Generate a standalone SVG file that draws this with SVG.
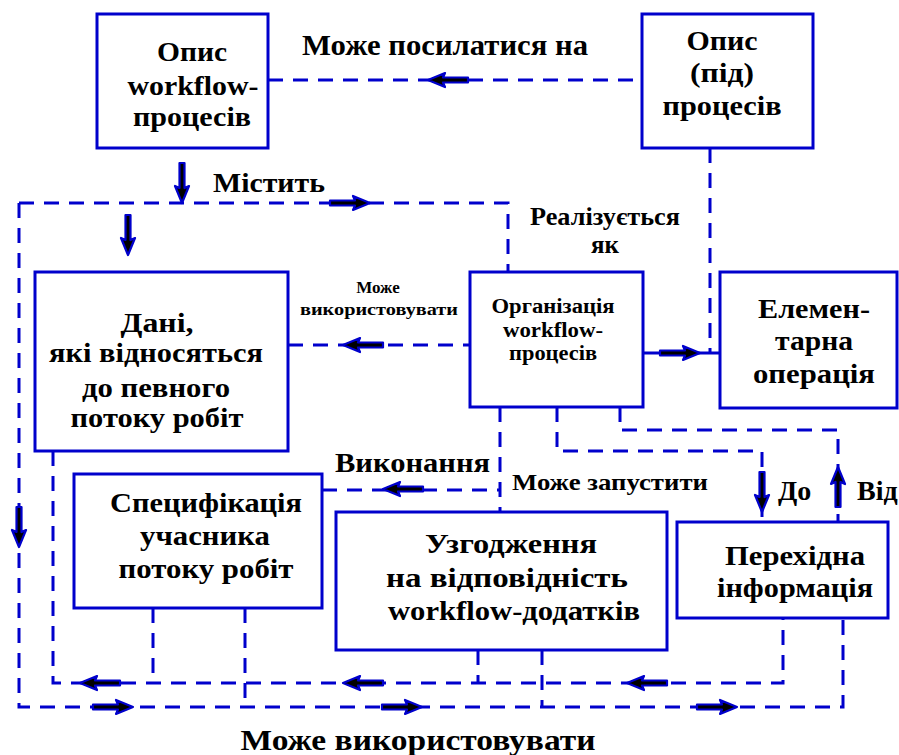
<svg xmlns="http://www.w3.org/2000/svg" width="899" height="755" viewBox="0 0 899 755">
<style>
.box{fill:#fff;stroke:#0000cc;stroke-width:3}
.d{fill:none;stroke:#0000cc;stroke-width:3;stroke-dasharray:15 10}
.s{fill:none;stroke:#0000cc;stroke-width:3}
.t28{font-size:28px;text-anchor:middle}
.t20{font-size:20px;text-anchor:middle}
.l{text-anchor:start}
</style>
<defs>
<polygon id="ah" points="0,0 -17,-7 -15,-2.5 -40,-2.5 -40,2.5 -15,2.5 -17,7" fill="#000" stroke="#0000cc" stroke-width="2.2" stroke-linejoin="round"/>
</defs>
<rect width="899" height="755" fill="#fff"/>
<g id="connectors">
<path class="d" d="M268,80 H642"/>
<path class="d" d="M710,148 V353"/>
<path class="s" d="M643,353 H720"/>
<path class="d" d="M19,203 H508 V272"/>
<path class="d" d="M19,203 V707 H843 V618"/>
<path class="d" d="M288,345 H470"/>
<path class="d" d="M53,451 V683 H783 V618"/>
<path class="d" d="M153,608 V683"/>
<path class="d" d="M245,608 V707"/>
<path class="d" d="M478,650 V683"/>
<path class="d" d="M542,650 V707"/>
<path class="d" d="M322,490 H500"/>
<path class="d" d="M500,407 V512"/>
<path class="d" d="M557,407 V451 H762 V522"/>
<path class="d" d="M620,407 V430 H838 V522"/>
<use href="#ah" transform="translate(428,80) rotate(180)"/>
<use href="#ah" transform="translate(182,203) rotate(90)"/>
<use href="#ah" transform="translate(128,255) rotate(90)"/>
<use href="#ah" transform="translate(370,203)"/>
<use href="#ah" transform="translate(343,345) rotate(180)"/>
<use href="#ah" transform="translate(700,353)"/>
<use href="#ah" transform="translate(383,489) rotate(180)"/>
<use href="#ah" transform="translate(762,512) rotate(90)"/>
<use href="#ah" transform="translate(838,467) rotate(-90)"/>
<use href="#ah" transform="translate(19,547) rotate(90)"/>
<use href="#ah" transform="translate(80,683) rotate(180)"/>
<use href="#ah" transform="translate(343,683) rotate(180)"/>
<use href="#ah" transform="translate(627,683) rotate(180)"/>
<use href="#ah" transform="translate(133,707)"/>
<use href="#ah" transform="translate(422,707)"/>
<use href="#ah" transform="translate(737,707)"/>
</g>
<g font-family="Liberation Serif" font-weight="bold" fill="#000">
<g id="labels">
<text class="l" x="302" y="55" font-size="30" textLength="286" lengthAdjust="spacingAndGlyphs">Може посилатися на</text>
<text class="l" x="213" y="192" font-size="27" textLength="112" lengthAdjust="spacingAndGlyphs">Містить</text>
<text class="l" x="530" y="225" font-size="25" textLength="150" lengthAdjust="spacingAndGlyphs">Реалізується</text>
<text x="605" y="253" font-size="25" text-anchor="middle">як</text>
<text x="378" y="293" font-size="17" text-anchor="middle">Може</text>
<text class="l" x="300" y="315" font-size="17" textLength="158" lengthAdjust="spacingAndGlyphs">використовувати</text>
<text class="l" x="335" y="472" font-size="27" textLength="155" lengthAdjust="spacingAndGlyphs">Виконання</text>
<text class="l" x="512" y="490" font-size="23" textLength="196" lengthAdjust="spacingAndGlyphs">Може запустити</text>
<text class="l" x="778" y="500" font-size="28">До</text>
<text class="l" x="857" y="500" font-size="28">Від</text>
<text x="418" y="750" font-size="29" text-anchor="middle" textLength="355" lengthAdjust="spacingAndGlyphs">Може використовувати</text>
</g>
<g id="n-opys-workflow">
<rect class="box" x="97" y="14" width="171" height="134"/>
<text class="t28" x="192" y="61" textLength="70" lengthAdjust="spacingAndGlyphs">Опис</text>
<text class="t28" x="193" y="95" textLength="131" lengthAdjust="spacingAndGlyphs">workflow-</text>
<text class="t28" x="192" y="126" textLength="118" lengthAdjust="spacingAndGlyphs">процесів</text>
</g>
<g id="n-opys-pid">
<rect class="box" x="642" y="14" width="171" height="134"/>
<text class="t28" x="722" y="50" textLength="71" lengthAdjust="spacingAndGlyphs">Опис</text>
<text class="t28" x="722" y="82" textLength="64" lengthAdjust="spacingAndGlyphs">(під)</text>
<text class="t28" x="722" y="115" textLength="119" lengthAdjust="spacingAndGlyphs">процесів</text>
</g>
<g id="n-dani">
<rect class="box" x="35" y="272" width="253" height="179"/>
<text class="t28" x="157" y="332" textLength="73" lengthAdjust="spacingAndGlyphs">Дані,</text>
<text class="t28" x="156" y="362" textLength="214" lengthAdjust="spacingAndGlyphs">які відносяться</text>
<text class="t28" x="156" y="397" textLength="148" lengthAdjust="spacingAndGlyphs">до певного</text>
<text class="t28" x="157" y="427" textLength="173" lengthAdjust="spacingAndGlyphs">потоку робіт</text>
</g>
<g id="n-organizatsiia">
<rect class="box" x="470" y="272" width="173" height="135"/>
<text class="t20" x="553" y="313" textLength="123" lengthAdjust="spacingAndGlyphs">Організація</text>
<text class="t20" x="553" y="337" textLength="100" lengthAdjust="spacingAndGlyphs">workflow-</text>
<text class="t20" x="553" y="360" textLength="88" lengthAdjust="spacingAndGlyphs">процесів</text>
</g>
<g id="n-elementarna">
<rect class="box" x="720" y="272" width="177" height="136"/>
<text class="t28" x="814" y="318" textLength="112" lengthAdjust="spacingAndGlyphs">Елемен-</text>
<text class="t28" x="814" y="350" textLength="78" lengthAdjust="spacingAndGlyphs">тарна</text>
<text class="t28" x="814" y="383" textLength="122" lengthAdjust="spacingAndGlyphs">операція</text>
</g>
<g id="n-spetsyfikatsiia">
<rect class="box" x="74" y="474" width="248" height="134"/>
<text class="t28" x="206" y="512" textLength="192" lengthAdjust="spacingAndGlyphs">Специфікація</text>
<text class="t28" x="205" y="545" textLength="130" lengthAdjust="spacingAndGlyphs">учасника</text>
<text class="t28" x="206" y="578" textLength="175" lengthAdjust="spacingAndGlyphs">потоку робіт</text>
</g>
<g id="n-uzgodzhennia">
<rect class="box" x="336" y="512" width="331" height="138"/>
<text class="t28" x="511" y="553" textLength="172" lengthAdjust="spacingAndGlyphs">Узгодження</text>
<text class="t28" x="507" y="587" textLength="242" lengthAdjust="spacingAndGlyphs">на відповідність</text>
<text class="t28" x="514" y="620" textLength="252" lengthAdjust="spacingAndGlyphs">workflow-додатків</text>
</g>
<g id="n-perekhidna">
<rect class="box" x="677" y="522" width="211" height="96"/>
<text class="t28" x="795" y="565" textLength="140" lengthAdjust="spacingAndGlyphs">Перехідна</text>
<text class="t28" x="795" y="597" textLength="156" lengthAdjust="spacingAndGlyphs">інформація</text>
</g>
</g>
</svg>
